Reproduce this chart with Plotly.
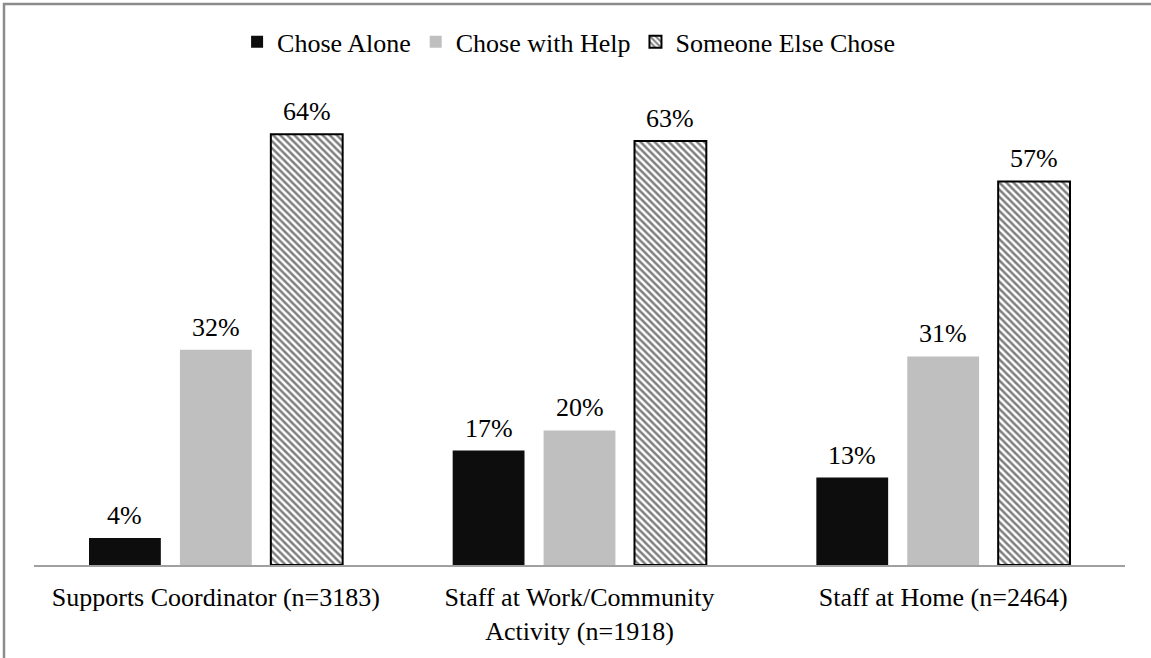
import plotly.graph_objects as go

categories = ["Supports Coordinator (n=3183)",
              "Staff at Work/Community<br>Activity (n=1918)",
              "Staff at Home (n=2464)"]
chose_alone = [4, 17, 13]
chose_with_help = [32, 20, 31]
someone_else = [64, 63, 57]

FONT = "Liberation Serif, Times New Roman, serif"
FS = 26
BARGAP = 0.25

series = [
    ("Chose Alone", chose_alone,
     dict(color="#0d0d0d", line=dict(width=0))),
    ("Chose with Help", chose_with_help,
     dict(color="#bfbfbf", line=dict(width=0))),
    ("Someone Else Chose", someone_else,
     dict(color="white", line=dict(color="black", width=2),
          pattern=dict(shape="\\", fgcolor="black", bgcolor="white",
                       size=5, solidity=0.5))),
]

fig = go.Figure()
annotations = []
slot = (1 - BARGAP) / len(series)
for k, (name, values, marker) in enumerate(series):
    fig.add_trace(go.Bar(name=name, x=categories, y=values, marker=marker))
    offset = (k - (len(series) - 1) / 2) * slot
    for i, v in enumerate(values):
        annotations.append(dict(
            x=i + offset, y=v, xref="x", yref="y", text=f"{v}%",
            showarrow=False, yanchor="bottom", yshift=6,
            font=dict(family=FONT, size=FS, color="black"),
        ))

fig.update_layout(
    width=1151, height=658,
    margin=dict(l=34, r=26, t=94, b=91),
    paper_bgcolor="white", plot_bgcolor="white",
    barmode="group", bargap=BARGAP, bargroupgap=0.21,
    font=dict(family=FONT, size=FS, color="black"),
    showlegend=True,
    legend=dict(orientation="h", x=0.49, xanchor="center", y=0.972,
                yanchor="top", yref="container",
                font=dict(family=FONT, size=FS), itemwidth=30,
                traceorder="normal"),
    xaxis=dict(showline=True, linecolor="#a0a0a0", linewidth=2,
               ticks="", ticklabelstandoff=8,
               tickfont=dict(family=FONT, size=FS)),
    yaxis=dict(range=[0, 70], visible=False, showgrid=False, zeroline=False),
    annotations=annotations,
    shapes=[dict(type="rect", xref="paper", yref="paper",
                 x0=-0.0275, x1=1.2, y0=-0.4, y1=1.191,
                 line=dict(color="#8c8c8c", width=2.5), layer="below")],
)

fig.write_html("out.html")
